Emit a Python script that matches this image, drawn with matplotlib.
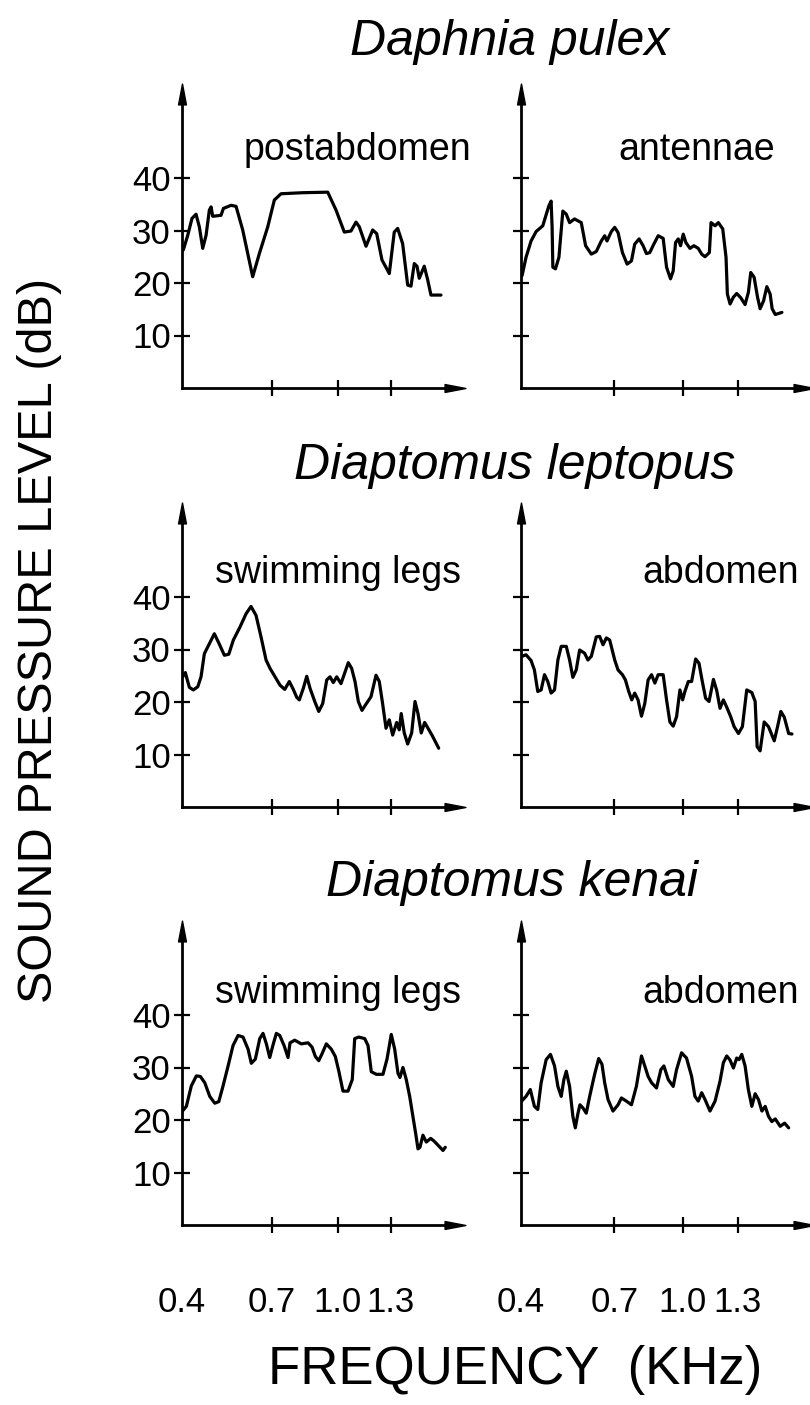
import numpy as np
import matplotlib
matplotlib.use("Agg")
import matplotlib.pyplot as plt
from matplotlib.path import Path

plt.rcParams['font.family'] = ['Liberation Sans', 'DejaVu Sans']

# ---- data -------------------------------------------------------------
species = ["Daphnia pulex", "Diaptomus leptopus", "Diaptomus kenai"]
organs = [["postabdomen", "antennae"],
          ["swimming legs", "abdomen"],
          ["swimming legs", "abdomen"]]

freq_ticks = [0.4, 0.7, 1.0, 1.3]
freq_tick_labels = ["0.4", "0.7", "1.0", "1.3"]
spl_ticks = [10, 20, 30, 40]
spl_tick_labels = ["10", "20", "30", "40"]

pulex_post_khz = [0.4036, 0.4158, 0.4277, 0.4393, 0.4489, 0.4589, 0.4690, 0.4790, 0.4842, 0.4894,
                  0.5159, 0.5234, 0.5489, 0.5660, 0.5893, 0.6255, 0.6505, 0.6830, 0.7093, 0.7367,
                  0.8305, 0.9491, 0.9908, 1.0337, 1.0693, 1.0967, 1.1149, 1.1526, 1.1908, 1.2144,
                  1.2456, 1.2901, 1.3209, 1.3423, 1.3739, 1.4066, 1.4283, 1.4502, 1.4683, 1.4837,
                  1.5178, 1.5415, 1.5645, 1.6360]
pulex_post_db = [26.3, 29.1, 32.3, 33.1, 30.7, 26.6, 29.1, 33.9, 34.5, 32.7,
                 32.9, 34.2, 34.8, 34.6, 30.1, 21.2, 25.6, 30.7, 35.8, 37.0,
                 37.2, 37.3, 33.9, 29.7, 29.9, 31.6, 30.7, 27.0, 30.1, 29.4,
                 24.4, 21.8, 29.7, 30.4, 27.5, 19.6, 19.4, 23.7, 23.2, 20.9,
                 23.2, 20.6, 17.7, 17.7]

pulex_ant_khz = [0.4028, 0.4133, 0.4269, 0.4408, 0.4598, 0.4775, 0.4842, 0.4872, 0.4894, 0.4974,
                 0.5079, 0.5201, 0.5310, 0.5416, 0.5577, 0.5802, 0.5951, 0.6150, 0.6327, 0.6509,
                 0.6634, 0.6721, 0.6885, 0.7015, 0.7146, 0.7318, 0.7506, 0.7684, 0.7819, 0.8004,
                 0.8176, 0.8319, 0.8467, 0.8646, 0.8843, 0.9072, 0.9230, 0.9417, 0.9545, 0.9659,
                 0.9790, 0.9903, 1.0036, 1.0169, 1.0374, 1.0576, 1.0801, 1.0983, 1.1160, 1.1395,
                 1.1486, 1.1708, 1.1891, 1.2138, 1.2326, 1.2403, 1.2560, 1.2754, 1.2949, 1.3191,
                 1.3454, 1.3655, 1.3804, 1.4014, 1.4230, 1.4395, 1.4616, 1.4830, 1.5046, 1.5178,
                 1.5387, 1.5837]
pulex_ant_db = [21.4, 24.9, 28.0, 29.8, 30.9, 34.7, 35.6, 30.6, 23.0, 22.7,
                24.9, 33.7, 33.1, 31.5, 32.2, 31.5, 27.1, 25.5, 26.0, 28.0,
                29.0, 28.0, 29.8, 30.6, 29.6, 25.8, 23.6, 24.2, 27.4, 28.4,
                27.1, 25.6, 25.8, 27.4, 29.0, 28.5, 23.0, 20.8, 22.3, 27.7,
                28.4, 27.1, 29.3, 27.7, 26.6, 27.1, 26.6, 25.5, 25.0, 25.8,
                31.5, 30.9, 31.5, 30.3, 24.9, 17.9, 16.0, 17.3, 18.0, 17.2,
                15.9, 18.2, 22.0, 21.1, 17.3, 15.1, 16.6, 19.3, 17.9, 15.1,
                14.0, 14.4]

lept_legs_khz = [0.4019, 0.4091, 0.4202, 0.4315, 0.4443, 0.4539, 0.4638, 0.4790, 0.4945, 0.5105,
                 0.5267, 0.5413, 0.5567, 0.5799, 0.6012, 0.6193, 0.6380, 0.6569, 0.6764, 0.6921,
                 0.7134, 0.7326, 0.7522, 0.7718, 0.7889, 0.8039, 0.8154, 0.8333, 0.8490, 0.8642,
                 0.8863, 0.9053, 0.9245, 0.9442, 0.9604, 0.9770, 0.9944, 1.0164, 1.0337, 1.0550,
                 1.0730, 1.0912, 1.1094, 1.1298, 1.1526, 1.1810, 1.2103, 1.2297, 1.2499, 1.2700,
                 1.2901, 1.3109, 1.3360, 1.3523, 1.3649, 1.3844, 1.4066, 1.4328, 1.4549, 1.4750,
                 1.4971, 1.5206, 1.5436, 1.5715, 1.6002, 1.6195]
lept_legs_db = [24.8, 25.6, 22.8, 22.3, 22.9, 24.8, 29.2, 31.1, 33.0, 31.0,
                28.9, 29.1, 31.8, 34.3, 36.8, 38.2, 36.5, 32.4, 28.0, 26.4,
                24.7, 23.2, 22.4, 23.9, 22.4, 20.9, 20.4, 22.6, 24.9, 22.6,
                20.1, 18.2, 19.7, 24.2, 24.8, 23.7, 24.8, 23.5, 25.3, 27.5,
                26.4, 23.9, 20.1, 18.4, 19.6, 21.0, 25.1, 23.9, 19.6, 15.0,
                16.6, 13.7, 16.1, 14.7, 17.8, 14.1, 12.0, 14.1, 20.1, 17.8,
                14.1, 16.1, 15.0, 13.7, 12.2, 11.2]

lept_abd_khz = [0.4028, 0.4133, 0.4269, 0.4361, 0.4455, 0.4551, 0.4647, 0.4744, 0.4842, 0.4945,
                0.5047, 0.5150, 0.5310, 0.5416, 0.5522, 0.5633, 0.5747, 0.5915, 0.6030, 0.6150,
                0.6327, 0.6448, 0.6573, 0.6697, 0.6823, 0.7015, 0.7146, 0.7318, 0.7438, 0.7573,
                0.7696, 0.7819, 0.7960, 0.8105, 0.8247, 0.8393, 0.8545, 0.8693, 0.8843, 0.9072,
                0.9230, 0.9387, 0.9545, 0.9708, 0.9872, 1.0005, 1.0118, 1.0289, 1.0459, 1.0666,
                1.0840, 1.1016, 1.1193, 1.1378, 1.1617, 1.1799, 1.1985, 1.2173, 1.2368, 1.2596,
                1.2797, 1.3053, 1.3291, 1.3555, 1.3870, 1.4079, 1.4204, 1.4395, 1.4656, 1.4938,
                1.5318, 1.5541, 1.5765, 1.6002, 1.6303, 1.6535]
lept_abd_db = [28.7, 29.0, 27.9, 26.1, 22.0, 22.3, 25.2, 23.9, 21.7, 22.3,
               28.0, 30.6, 30.6, 28.0, 24.7, 26.1, 29.9, 29.3, 28.0, 28.7,
               32.4, 32.5, 30.9, 32.2, 31.8, 28.0, 26.1, 25.2, 24.2, 22.0,
               20.4, 21.7, 20.4, 17.3, 19.7, 24.2, 25.2, 23.6, 25.2, 25.2,
               20.4, 16.2, 15.4, 17.2, 22.3, 20.4, 22.0, 23.9, 23.9, 28.2,
               27.4, 23.9, 20.7, 20.1, 24.3, 22.2, 18.8, 20.4, 19.0, 17.2,
               15.3, 14.0, 15.3, 22.3, 21.8, 20.1, 11.5, 10.7, 16.2, 15.3,
               12.6, 15.3, 18.2, 17.1, 14.0, 13.9]

kenai_legs_khz = [0.4000, 0.4119, 0.4258, 0.4402, 0.4519, 0.4650, 0.4802, 0.4958, 0.5086, 0.5224,
                  0.5390, 0.5557, 0.5730, 0.5904, 0.6085, 0.6204, 0.6354, 0.6520, 0.6646, 0.6776,
                  0.6909, 0.7040, 0.7175, 0.7314, 0.7493, 0.7662, 0.7747, 0.7951, 0.8242, 0.8550,
                  0.8734, 0.8891, 0.9053, 0.9210, 0.9422, 0.9668, 0.9872, 1.0046, 1.0268, 1.0534,
                  1.0763, 1.0895, 1.1116, 1.1452, 1.1639, 1.1827, 1.2120, 1.2517, 1.2761, 1.3022,
                  1.3235, 1.3442, 1.3567, 1.3759, 1.3975, 1.4197, 1.4415, 1.4596, 1.4750, 1.4884,
                  1.5088, 1.5318, 1.5624, 1.5858, 1.6145, 1.6506, 1.6675]
kenai_legs_db = [21.6, 22.6, 26.5, 28.4, 28.3, 27.1, 24.5, 23.2, 23.5, 26.5,
                 30.3, 34.2, 36.1, 35.8, 33.5, 30.8, 31.6, 35.5, 36.5, 34.5,
                 31.9, 34.3, 36.5, 36.1, 34.2, 31.9, 34.7, 35.2, 34.5, 34.7,
                 33.9, 32.1, 31.3, 32.6, 34.5, 33.5, 32.1, 29.4, 25.5, 25.5,
                 27.7, 35.5, 35.8, 35.5, 34.2, 29.2, 28.7, 28.7, 31.6, 36.3,
                 33.5, 28.9, 28.1, 30.0, 27.7, 24.5, 20.6, 17.4, 14.5, 14.8,
                 17.1, 15.8, 16.5, 16.0, 15.2, 14.2, 14.8]

kenai_abd_khz = [0.4017, 0.4133, 0.4249, 0.4361, 0.4455, 0.4551, 0.4696, 0.4823, 0.4945, 0.5047,
                 0.5150, 0.5234, 0.5310, 0.5416, 0.5522, 0.5602, 0.5692, 0.5757, 0.5858, 0.5973,
                 0.6092, 0.6267, 0.6414, 0.6535, 0.6634, 0.6760, 0.6948, 0.7146, 0.7277, 0.7476,
                 0.7684, 0.7889, 0.8105, 0.8247, 0.8393, 0.8545, 0.8767, 0.8967, 0.9105, 0.9309,
                 0.9545, 0.9708, 0.9954, 1.0200, 1.0459, 1.0629, 1.0801, 1.0983, 1.1160, 1.1429,
                 1.1708, 1.1985, 1.2173, 1.2368, 1.2560, 1.2754, 1.2949, 1.3090, 1.3253, 1.3454,
                 1.3655, 1.3870, 1.4079, 1.4289, 1.4509, 1.4723, 1.4938, 1.5157, 1.5387, 1.5722,
                 1.6023, 1.6303]
kenai_abd_db = [23.6, 24.5, 25.8, 22.6, 22.0, 27.1, 31.5, 32.5, 30.3, 26.4,
                24.5, 27.7, 29.3, 26.4, 20.7, 18.5, 21.3, 22.9, 22.3, 21.3,
                24.5, 28.7, 31.7, 30.6, 27.1, 23.9, 21.7, 22.9, 24.2, 23.6,
                22.9, 26.4, 32.2, 30.3, 28.3, 27.1, 26.1, 29.6, 30.3, 27.7,
                26.4, 29.6, 32.8, 31.8, 28.3, 24.5, 23.6, 25.2, 23.9, 21.7,
                23.6, 27.4, 30.9, 32.2, 31.4, 29.9, 31.8, 31.5, 32.5, 30.3,
                25.8, 22.6, 25.0, 23.9, 21.7, 22.6, 20.7, 19.7, 20.2, 18.8,
                19.4, 18.5]

spectra = [[(pulex_post_khz, pulex_post_db), (pulex_ant_khz, pulex_ant_db)],
           [(lept_legs_khz, lept_legs_db), (lept_abd_khz, lept_abd_db)],
           [(kenai_legs_khz, kenai_legs_db), (kenai_abd_khz, kenai_abd_db)]]

# ---- layout (pixels) ---------------------------------------------------
W, H = 810, 1405
fig = plt.figure(figsize=(W / 100, H / 100), dpi=100)
fig.patch.set_facecolor('white')

row_bottoms = [388, 807, 1225]
col_spans = [(182, 455), (521, 804)]
panel_h = 294
title_y = [42, 466, 883]
title_x = [510, 515, 512]
organ_baseline = [160, 583, 1003]
organ_x = [[357, 697], [338, 721], [338, 721]]


def fwd(x):
    return np.power(np.clip(x, 1e-6, None), 0.3)


def inv(u):
    return np.power(np.clip(u, 1e-6, None), 1 / 0.3)


arrow_right = Path([(-1, -0.38), (1, 0), (-1, 0.38), (-1, -0.38)],
                   [Path.MOVETO, Path.LINETO, Path.LINETO, Path.CLOSEPOLY])
arrow_up = Path([(-0.38, -1), (0, 1), (0.38, -1), (-0.38, -1)],
                [Path.MOVETO, Path.LINETO, Path.LINETO, Path.CLOSEPOLY])

for r in range(3):
    for c in range(2):
        x0, x1 = col_spans[c]
        yb = row_bottoms[r]
        ax = fig.add_axes([x0 / W, 1 - yb / H, (x1 - x0) / W, panel_h / H])
        ax.set_xscale('function', functions=(fwd, inv))
        khz, db = spectra[r][c]
        ax.plot(khz, db, color='black', lw=2.3, solid_joinstyle='round',
                solid_capstyle='round')
        ax.set_xlim(0.4, 1.74)
        ax.set_ylim(0, 56)
        for s in ('top', 'right'):
            ax.spines[s].set_visible(False)
        for s in ('left', 'bottom'):
            ax.spines[s].set_linewidth(2.0)
        ax.set_xticks(freq_ticks)
        ax.set_yticks(spl_ticks)
        ax.minorticks_off()
        ax.tick_params(direction='inout', length=12, width=1.6, color='black')
        ax.xaxis.get_major_ticks()[0].tick1line.set_visible(False)
        if r == 2:
            ax.set_xticklabels(freq_tick_labels, fontsize=25)
            ax.tick_params(axis='x', pad=38)
        else:
            ax.tick_params(axis='x', labelbottom=False)
        if c == 0:
            ax.set_yticklabels(spl_tick_labels, fontsize=25)
            ax.tick_params(axis='y', pad=2)
        else:
            ax.tick_params(axis='y', labelleft=False)
        ax.plot(1, 0, marker=arrow_right, ms=15, color='black',
                transform=ax.transAxes, clip_on=False)
        ax.plot(0, 1, marker=arrow_up, ms=15, color='black',
                transform=ax.transAxes, clip_on=False)
        fig.text(organ_x[r][c] / W, 1 - organ_baseline[r] / H, organs[r][c],
                 fontsize=27, ha='center', va='baseline')
    fig.text(title_x[r] / W, 1 - title_y[r] / H, species[r], fontsize=36,
             style='italic', ha='center', va='center')

fig.text(40 / W, 1 - 640 / H, "SOUND PRESSURE LEVEL (dB)", fontsize=35,
         rotation=90, ha='center', va='center')
fig.text(515 / W, 1 - 1370 / H, "FREQUENCY  (KHz)", fontsize=38,
         ha='center', va='center')

fig.savefig("out.png", dpi=100, facecolor='white')
